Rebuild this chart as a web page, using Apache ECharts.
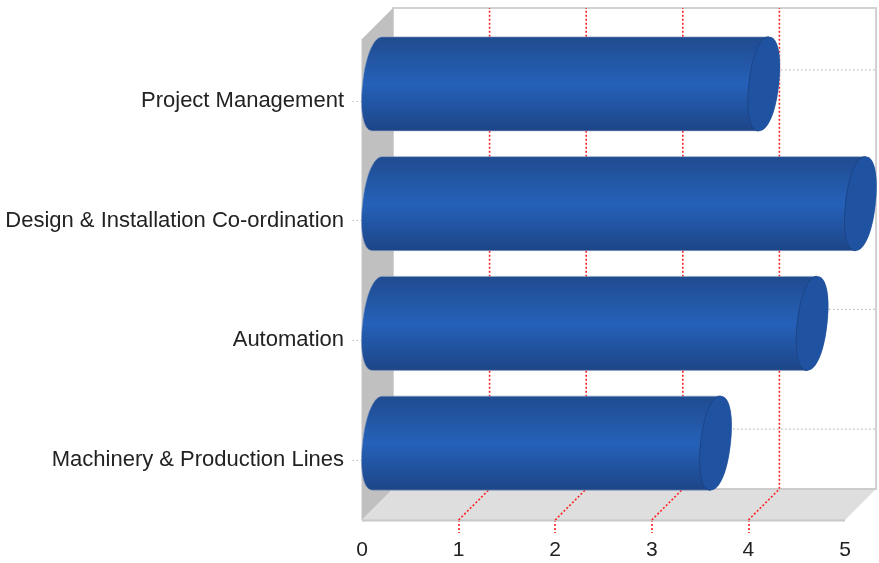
<!DOCTYPE html>
<html><head><meta charset="utf-8">
<style>html,body{margin:0;padding:0;background:#fff}#c{width:879px;height:563px}</style>
<script src="https://cdn.jsdelivr.net/npm/echarts@6/dist/echarts.min.js"></script>
</head><body><div id="c"></div>
<script>
var categories = ['Project Management','Design & Installation Co-ordination','Automation','Machinery & Production Lines'];
var seriesValues = [4, 5, 4.5, 3.5];
var axisTickValues = [0,1,2,3,4,5];
var redGridValues = [1,2,3,4];

var DEPTH = 31, TOPX = 2, MIDX = 15.5, MIDY = 17, HALF = 47, SHEAR = 5, RX = 15, POW = 0.92;
var chart = echarts.init(document.getElementById('c'), null, {renderer:'canvas'});

function spow(v){ return (v < 0 ? -1 : 1) * Math.pow(Math.abs(v), POW); }
function ellipsePts(cx, cy, from, to){
  var pts = [], n = 48;
  for (var i = 0; i <= n; i++){
    var t = (from + (to - from) * i / n) * Math.PI / 180;
    var c = spow(Math.cos(t)), s = spow(Math.sin(t));
    pts.push([cx + RX * c + SHEAR * s, cy - HALF * s]);
  }
  return pts;
}
function renderWalls(params, api){
  var g = params.coordSys, l = g.x, r = g.x + g.width, t = g.y - TOPX, b = g.y + g.height, d = DEPTH;
  return {type:'group', children:[
    {type:'polygon', shape:{points:[[l+d,t-d],[r+d,t-d],[r+d,b-d],[l+d,b-d]]}, style:{fill:'#fff', stroke:'#d2d2d2', lineWidth:2}},
    {type:'polygon', shape:{points:[[l,t],[l+d,t-d],[l+d,b-d],[l,b]]}, style:{fill:'#c0c0c0'}},
    {type:'polygon', shape:{points:[[l,b],[l+d,b-d],[r+d,b-d],[r,b]]}, style:{fill:'#dedede'}},
    {type:'line', shape:{x1:l+d,y1:b-d,x2:r+d,y2:b-d}, style:{stroke:'#cccccc', lineWidth:2}},
    {type:'line', shape:{x1:l,y1:b+0.5,x2:r,y2:b+0.5}, style:{stroke:'#c8c8c8', lineWidth:2}},
    {type:'line', shape:{x1:l,y1:t,x2:l,y2:b}, style:{stroke:'#c4c4c4', lineWidth:1}}
  ]};
}
function renderRed(params, api){
  var v = api.value(0), g = params.coordSys, x = api.coord([v, categories[0]])[0], b = g.y + g.height;
  return {type:'polyline', shape:{points:[[x,b],[x+DEPTH,b-DEPTH],[x+DEPTH,g.y-TOPX-DEPTH]]},
    style:{stroke:'#ff1f1f', lineWidth:1.6, lineDash:[2,2], fill:null}};
}
function renderGray(params, api){
  var g = params.coordSys, y = api.coord([0, api.value(0)])[1];
  return {type:'line', shape:{x1:g.x+DEPTH,y1:y-DEPTH,x2:g.x+g.width+DEPTH,y2:y-DEPTH},
    style:{stroke:'#bdbdbd', lineWidth:1.2, lineDash:[1.5,2.5]}};
}
function renderBar(params, api){
  var p0 = api.coord([0, api.value(1)]), p1 = api.coord([api.value(0), api.value(1)]);
  var cy = p0[1] - MIDY, lx = p0[0] + MIDX, rx = p1[0] + MIDX;
  var body = ellipsePts(lx, cy, 90, 270).concat(ellipsePts(rx, cy, 270, 450));
  var grad = new echarts.graphic.LinearGradient(0,0,0,1,[
    {offset:0,color:'#204b8f'},{offset:0.5,color:'#2561b9'},{offset:1,color:'#1d4587'}]);
  return {type:'group', children:[
    {type:'polygon', shape:{points:body}, style:{fill:grad, stroke:'#8fa3c4', lineWidth:0.6}},
    {type:'polygon', shape:{points:ellipsePts(rx, cy, 0, 360)}, style:{fill:'#1f53a1'}},
    {type:'polyline', shape:{points:ellipsePts(rx, cy, 90, 270)}, style:{stroke:'#1b4488', lineWidth:1, fill:null}}
  ]};
}
chart.setOption({
  animation:false,
  grid:{left:362,right:34,top:41,bottom:43,containLabel:false},
  xAxis:{type:'value',min:axisTickValues[0],max:axisTickValues[axisTickValues.length-1],interval:1,
    axisLine:{show:false},splitLine:{show:false},
    axisTick:{show:true,length:13,customValues:redGridValues,lineStyle:{color:'#ff1f1f',type:[2,2],width:1.6}},
    axisLabel:{margin:20,fontFamily:'Liberation Sans',fontSize:21,color:'#222'}},
  yAxis:{type:'category',inverse:true,data:categories,
    axisLine:{show:false},splitLine:{show:false},
    axisTick:{show:true,alignWithLabel:true,length:10,lineStyle:{color:'#bdbdbd',type:[1.5,2.5],width:1.2}},
    axisLabel:{margin:18,fontFamily:'Liberation Sans',fontSize:22,color:'#222'}},
  series:[
    {type:'custom',renderItem:renderWalls,data:[0],silent:true,z:1},
    {type:'custom',renderItem:renderGray,data:categories.map(function(c){return [c];}),encode:{y:0},silent:true,z:2},
    {type:'custom',renderItem:renderRed,data:redGridValues.map(function(v){return [v];}),encode:{x:0},silent:true,z:2},
    {type:'custom',renderItem:renderBar,data:categories.map(function(c,i){return [seriesValues[i],c];}),encode:{x:0,y:1},z:3}
  ]
});
</script></body></html>
